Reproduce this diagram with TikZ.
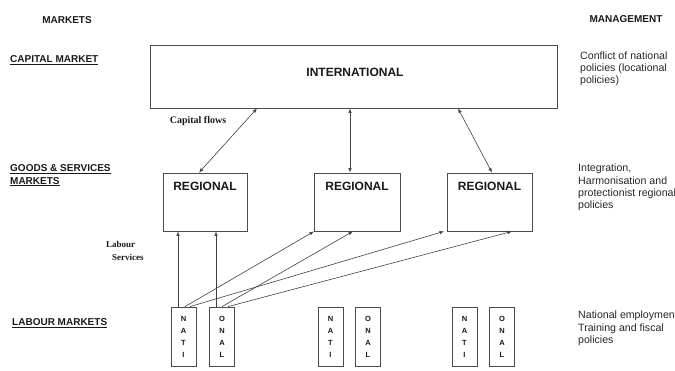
\documentclass[tikz,border=0pt]{standalone}
\usepackage{fontspec}
\setmainfont{Liberation Sans}
\newfontfamily\serifb{Liberation Serif}
\usetikzlibrary{arrows.meta}
\begin{document}
\begin{tikzpicture}[x=1pt,y=-1pt,
  box/.style={draw=black!70, line width=0.8pt, inner sep=0pt},
  lbox/.style={box, minimum width=25pt, minimum height=59pt, align=center,
    font=\fontsize{7.5}{12}\selectfont\bfseries, text=black!90},
  rbox/.style={box, minimum height=58pt},
  ttl/.style={font=\fontsize{12}{14}\selectfont\bfseries, text=black!90, inner sep=0pt},
  hdr/.style={font=\fontsize{10}{12.5}\selectfont\bfseries, text=black!90, inner sep=0pt, align=left},
  note/.style={font=\fontsize{10.6}{12.2}\selectfont, text=black!85, inner sep=0pt, align=left, anchor=north west},
  ser/.style={font=\serifb\fontsize{10}{13}\selectfont\bfseries, text=black!90, inner sep=0pt, align=left},
  arr/.style={-{Latex[length=4.5pt,width=3.5pt]}, line width=0.6pt, draw=black!75},
  dbl/.style={{Latex[length=4.5pt,width=3.5pt]}-{Latex[length=4.5pt,width=3.5pt]}, line width=0.6pt, draw=black!75}
]
\useasboundingbox (0,0) rectangle (675,371);

% boxes
\node[box, minimum width=407pt, minimum height=63pt] (intl) at (353.5,76.5) {};
\node[ttl] (intltxt) at (355,72) {INTERNATIONAL};

\node[rbox, minimum width=84pt] (r1) at (205,202) {};
\node[rbox, minimum width=86pt] (r2) at (357,202) {};
\node[rbox, minimum width=85pt] (r3) at (489.5,202) {};
\node[ttl] (r1t) at ([yshift=-14pt]r1.north) {REGIONAL};
\node[ttl] (r2t) at ([yshift=-14pt]r2.north) {REGIONAL};
\node[ttl] (r3t) at ([yshift=-14pt]r3.north) {REGIONAL};

\node[lbox] (n1) at (183.5,336.5) {N\\A\\T\\I};
\node[lbox] (o1) at (222,336.5) {O\\N\\A\\L};
\node[lbox] (n2) at (330.5,336.5) {N\\A\\T\\I};
\node[lbox] (o2) at (368,336.5) {O\\N\\A\\L};
\node[lbox] (n3) at (464.5,336.5) {N\\A\\T\\I};
\node[lbox] (o3) at (502,336.5) {O\\N\\A\\L};

% capital flows
\draw[dbl] (intl.south -| 257,0) -- (r1.north -| 199,0);
\draw[dbl] (intl.south -| 350,0) -- (r2.north -| 350,0);
\draw[dbl] (intl.south -| 458,0) -- (r3.north -| 492,0);

% labour services
\draw[arr] (n1.north -| 178,0) -- (r1.south -| 178,0);
\draw[arr] (o1.north -| 216,0) -- (r1.south -| 216,0);
\draw[arr] (n1.north -| 185,0) -- (r2.south -| 314,0);
\draw[arr] (n1.north -| 190,0) -- (r3.south -| 444,0);
\draw[arr] (o1.north -| 222,0) -- (r2.south -| 353,0);
\draw[arr] (o1.north -| 228,0) -- (r3.south -| 512,0);

% left headings
\node[hdr] (mk) at (67,20) {MARKETS};
\node[hdr, anchor=west] (cap) at (10,60) {\underline{CAPITAL MARKET}};
\node[hdr, anchor=north west] (gs) at (10,164.5) {\underline{GOODS \& SERVICES}\\\underline{MARKETS}};
\node[hdr, anchor=west] (lab) at (12,323) {\underline{LABOUR MARKETS}};

\node[ser] (cf) at (198,121) {Capital flows};
\node[ser, anchor=north west, font=\serifb\fontsize{9}{13}\selectfont\bfseries] (ls) at (106,241) {Labour\\\hspace*{6pt}Services};

% right headings
\node[hdr] (mg) at (626,19) {MANAGEMENT};
\node[note] (m1) at (580,51.5) {Conflict of national\\policies (locational\\policies)};
\node[note] (m2) at (578,164) {Integration,\\Harmonisation and\\protectionist regional\\policies};
\node[note] (m3) at (578,311) {National employment\\Training and fiscal\\policies};
\end{tikzpicture}
\end{document}
